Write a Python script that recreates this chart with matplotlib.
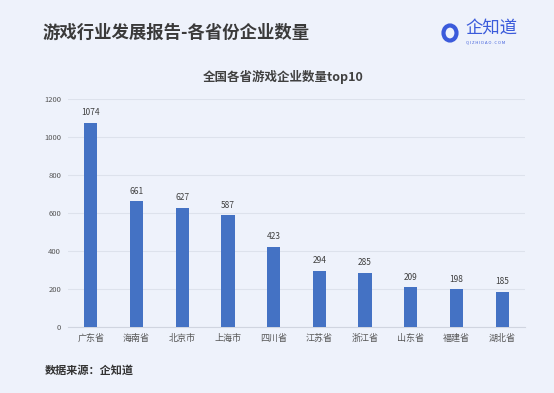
import matplotlib.pyplot as plt
from matplotlib.patches import Ellipse

plt.rcParams['font.family'] = ['Noto Sans CJK SC', 'DejaVu Sans']

provinces = ["广东省", "海南省", "北京市", "上海市", "四川省", "江苏省", "浙江省", "山东省", "福建省", "湖北省"]
counts = [1074, 661, 627, 587, 423, 294, 285, 209, 198, 185]
yticks = [0, 200, 400, 600, 800, 1000, 1200]

bg = "#EEF2FB"
bar_color = "#4472C4"
W, H = 554, 393

fig = plt.figure(figsize=(5.54, 3.93), dpi=100)
fig.patch.set_facecolor(bg)

ax = fig.add_axes([68 / W, 1 - 327 / H, 457 / W, 228 / H])
ax.set_facecolor(bg)
x = range(len(provinces))
ax.bar(x, counts, width=0.29, color=bar_color, zorder=3)
for xi, v in zip(x, counts):
    ax.text(xi, v + 30, str(v), ha="center", va="bottom", fontsize=6, color="#404040")

ax.set_xlim(-0.5, len(provinces) - 0.5)
ax.set_ylim(0, 1200)
ax.set_yticks(yticks)
ax.set_yticklabels([str(t) for t in yticks], fontsize=5.5, color="#555555")
ax.set_xticks(list(x))
ax.set_xticklabels(provinces, fontsize=6.5, color="#555555")
ax.tick_params(length=0, pad=5)
ax.grid(axis="y", color="#DDE2EC", linewidth=0.8, zorder=0)
for s in ax.spines.values():
    s.set_visible(False)
ax.spines["bottom"].set_visible(True)
ax.spines["bottom"].set_color("#D0D5E0")

fig.text(283 / W, 1 - 77 / H, "全国各省游戏企业数量top10", ha="center", va="center",
         fontsize=9, fontweight="bold", color="#404040")
fig.text(43 / W, 1 - 33 / H, "游戏行业发展报告-各省份企业数量", ha="left", va="center",
         fontsize=12.5, fontweight="bold", color="#3A3A3A")
fig.text(45 / W, 1 - 370 / H, "数据来源：企知道", ha="left", va="center",
         fontsize=8, fontweight="bold", color="#333333")

# logo
logo = "#3B5BDB"
fig.patches.append(Ellipse((450 / W, 1 - 33 / H), 13 / W, 15 / H, transform=fig.transFigure,
                           facecolor="none", edgecolor=logo, linewidth=3))
fig.text(465 / W, 1 - 29 / H, "企知道", ha="left", va="center",
         fontsize=12.5, fontweight="medium", color=logo)
fig.text(466 / W, 1 - 42 / H, "Q I Z H I D A O . C O M", ha="left", va="center",
         fontsize=3, color=logo)

fig.savefig("out.png", dpi=100, facecolor=bg)
